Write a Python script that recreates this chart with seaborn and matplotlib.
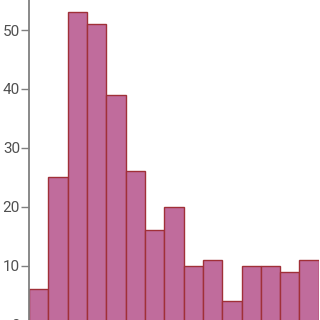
import numpy as np
import pandas as pd
import matplotlib
matplotlib.use("Agg")
import matplotlib.pyplot as plt
import seaborn as sns

bin_centres = [0.5, 1.5, 2.5, 3.5, 4.5, 5.5, 6.5, 7.5, 8.5, 9.5, 10.5, 11.5, 12.5, 13.5, 14.5]
counts = [6, 25, 53, 51, 39, 26, 16, 20, 10, 11, 4, 10, 10, 9, 11]
y_ticks = [0, 10, 20, 30, 40, 50]

df = pd.DataFrame({"value": bin_centres, "count": counts})

sns.set_style("white")
plt.rcParams['font.family'] = ['Roboto', 'DejaVu Sans']

fig = plt.figure(figsize=(3.2, 3.2), dpi=100)
ax = fig.add_axes([29.0 / 320, -4.6 / 320, (318.8 - 29.0) / 320, 324.6 / 320])
sns.histplot(data=df, x="value", weights="count", bins=15, binrange=(0, 15), ax=ax,
             color="#c06c9c", edgecolor="#a03038", linewidth=1.0, alpha=1.0)
ax.set_xlim(0, 15)
ax.set_ylim(0, 55.1)
ax.set_yticks(y_ticks)
ax.set_xticks([])
ax.set_xlabel("")
ax.set_ylabel("")
for s in ["top", "right", "bottom"]:
    ax.spines[s].set_visible(False)
ax.spines["left"].set_color("#808080")
ax.spines["left"].set_linewidth(1.3)
ax.tick_params(axis="y", left=True, length=6, width=1, color="#808080",
               labelsize=11, labelcolor="#505050", pad=0.5)
fig.savefig("out.png", dpi=100)
